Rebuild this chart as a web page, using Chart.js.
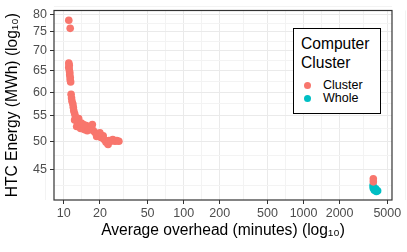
<!DOCTYPE html>
<html>
<head>
<meta charset="utf-8">
<script src="https://cdn.jsdelivr.net/npm/chart.js@4.4.1/dist/chart.umd.min.js"></script>
<style>
  body { margin: 0; background: #fff; }
  #wrap { position: relative; width: 407px; height: 252px; }
  #legend { position: absolute; left: 293px; top: 28px; width: 86px; height: 84px;
    border: 1.5px solid #000; background: #fff; font-family: "Liberation Sans", Arial, sans-serif; }
  #legend div { position: absolute; white-space: nowrap; }
  .ttl { font-size: 15.6px; left: 7px; line-height: 19px; color: #000; }
  .lab { font-size: 12.5px; left: 29px; line-height: 14px; color: #000; }
  .dot { width: 7px; height: 7px; border-radius: 50%; left: 10px; }
</style>
</head>
<body>
<div id="wrap">
  <canvas id="myChart" width="407" height="252"></canvas>
  <div id="legend">
    <div class="ttl" style="top:5px">Computer</div>
    <div class="ttl" style="top:24px">Cluster</div>
    <div class="dot" style="top:53px;background:#F8766D"></div>
    <div class="lab" style="top:49px">Cluster</div>
    <div class="dot" style="top:66px;background:#00BFC4"></div>
    <div class="lab" style="top:62px">Whole</div>
  </div>
</div>
<script>
// Data
const clusterMinutes = [11.0, 11.3,
  11.0, 11.1, 11.0, 11.1, 11.2, 11.2, 11.3, 11.3, 11.4,
  11.5, 11.6, 11.7, 11.9, 12.0, 12.1, 12.3, 12.5, 12.8, 13.0, 13.3, 13.5, 14.0, 14.3, 14.8,
  15.4, 15.7, 16.3, 16.9, 17.3, 17.6, 18.3, 19.0, 19.7, 20.4, 21.3, 21.7, 22.5, 23.4, 23.8,
  24.7, 25.6, 26.7, 27.7, 28.8, 12.3, 12.8, 13.8, 14.6, 18.8, 20.0,
  3820, 3820]
const clusterEnergy = [78.3, 76.0,
  66.8, 66.3, 65.8, 65.2, 64.6, 64.0, 63.4, 62.8, 62.3,
  59.5, 58.7, 58.0, 57.4, 56.7, 56.0, 55.4, 54.8, 54.2, 53.5, 54.4, 53.0, 53.5, 52.6, 52.2,
  53.0, 52.0, 52.4, 52.8, 53.2, 52.0, 51.6, 51.4, 51.0, 50.7, 51.0, 50.3, 49.8, 49.4, 50.1,
  50.0, 50.3, 50.0, 50.1, 50.0, 54.1, 52.8, 52.4, 53.2, 50.9, 51.6,
  43.5, 43.0]
const wholeMinutes = [3800, 3820, 3900, 4050, 4150, 4000]
const wholeEnergy = [42.4, 42.0, 41.7, 41.5, 41.6, 41.9]

const xTicks = [10, 20, 50, 100, 200, 500, 1000, 2000, 5000]
const yTicks = [45, 50, 55, 60, 65, 70, 75, 80]

// minor breaks sit halfway between majors on the log scale
function withMinors(majors, lowExtra, highExtra) {
  const all = [lowExtra].concat(majors, [highExtra])
  let ticks = majors.map(v => ({ value: v }))
  for (let i = 0; i < all.length - 1; i++) {
    ticks.push({ value: Math.sqrt(all[i] * all[i + 1]), minor: true })
  }
  return ticks.sort((a, b) => a.value - b.value)
}

const toPoints = (xs, ys) => xs.map((x, i) => ({ x: x, y: ys[i] }))

const gridOpts = {
  color: c => (c.tick && c.tick.minor) ? '#F3F3F3' : '#EAEAEA',
  lineWidth: 1,
  tickColor: c => (c.tick && c.tick.minor) ? 'rgba(0,0,0,0)' : '#333333',
  tickWidth: 1,
  tickLength: 4
}

const panelBorder = {
  id: 'panelBorder',
  afterDraw(chart) {
    const a = chart.chartArea, g = chart.ctx
    g.save()
    g.strokeStyle = '#333333'
    g.lineWidth = 1.2
    g.strokeRect(a.left, a.top, a.right - a.left, a.bottom - a.top)
    g.restore()
  }
}

const font = 'Liberation Sans, Arial, sans-serif'

const myChart = new Chart(document.getElementById('myChart'), {
  type: 'scatter',
  data: {
    datasets: [
      { label: 'Cluster', data: toPoints(clusterMinutes, clusterEnergy),
        backgroundColor: '#F8766D', borderWidth: 0, pointRadius: 3.8 },
      { label: 'Whole', data: toPoints(wholeMinutes, wholeEnergy),
        backgroundColor: '#00BFC4', borderWidth: 0, pointRadius: 3.8 }
    ]
  },
  options: {
    responsive: false,
    animation: false,
    devicePixelRatio: 1,
    layout: { padding: { top: 7, right: 9, left: 0, bottom: 0 } },
    plugins: { legend: { display: false }, tooltip: { enabled: false } },
    scales: {
      x: {
        type: 'logarithmic',
        min: 8.28, max: 5470,
        afterBuildTicks: s => { s.ticks = withMinors(xTicks, 5, 10000) },
        afterFit: s => { s.height = 52 },
        grid: gridOpts,
        border: { display: false },
        ticks: {
          autoSkip: false, maxRotation: 0, padding: 2,
          color: '#4D4D4D', font: { family: font, size: 12.5 },
          callback: (v, i, t) => t[i].minor ? '' : String(v)
        },
        title: {
          display: true, text: 'Average overhead (minutes) (log₁₀)',
          color: '#000', font: { family: font, size: 15.6 },
          padding: { top: 0, bottom: 12 }
        }
      },
      y: {
        type: 'logarithmic',
        min: 40.2, max: 81.2,
        afterBuildTicks: s => { s.ticks = withMinors(yTicks, 40, 85) },
        afterFit: s => { s.width = 54 },
        grid: gridOpts,
        border: { display: false },
        ticks: {
          autoSkip: false, padding: 3,
          color: '#4D4D4D', font: { family: font, size: 12.5 },
          callback: (v, i, t) => t[i].minor ? '' : String(v)
        },
        title: {
          display: true, text: 'HTC Energy (MWh) (log₁₀)',
          color: '#000', font: { family: font, size: 15.6 },
          padding: { top: 3, bottom: 0 }
        }
      }
    }
  },
  plugins: [panelBorder]
})
</script>
</body>
</html>
